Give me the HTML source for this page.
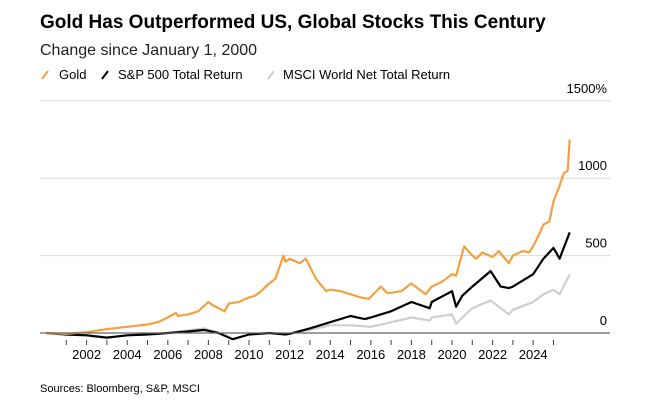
<!DOCTYPE html>
<html><head><meta charset="utf-8"><style>
body{margin:0;background:#fff;font-family:"Liberation Sans",Arial,sans-serif;}
#wrap{position:relative;width:662px;height:413px;overflow:hidden;}
</style></head><body>
<div id="wrap">
<svg id="chart" width="662" height="413" xmlns="http://www.w3.org/2000/svg">
<text x="40" y="28" font-size="19" font-weight="bold" fill="#000">Gold Has Outperformed US, Global Stocks This Century</text>
<text x="40" y="55" font-size="16" fill="#222">Change since January 1, 2000</text>
<g>
<g><line x1="42" y1="79" x2="48" y2="71" stroke="#f5a040" stroke-width="2"/><text x="59" y="79" font-size="13" fill="#000">Gold</text></g>
<g><line x1="102" y1="79" x2="108" y2="71" stroke="#000" stroke-width="2"/><text x="118" y="79" font-size="13" fill="#000">S&amp;P 500 Total Return</text></g>
<g><line x1="268" y1="79" x2="274" y2="71" stroke="#ccc" stroke-width="2"/><text x="283" y="79" font-size="13" fill="#000">MSCI World Net Total Return</text></g>
</g>
<g id="grid"></g><g id="series"></g><g id="xaxis"></g>
<text x="40" y="392" font-size="11" fill="#000">Sources: Bloomberg, S&amp;P, MSCI</text>
</svg>
</div>
<script>
const yTicks=[0,500,1000,1500];
const yTickLabels=["0","500","1000","1500%"];
const xTickYears=[2002,2004,2006,2008,2010,2012,2014,2016,2018,2020,2022,2024];
const goldT=[2000,2001,2002,2003,2004,2005,2005.5,2006,2006.4,2006.5,2007,2007.5,2008,2008.2,2008.8,2009,2009.5,2010,2010.3,2010.5,2011,2011.3,2011.7,2011.8,2012,2012.5,2012.8,2013.3,2013.8,2014,2014.5,2015,2015.5,2015.9,2016.5,2016.8,2017,2017.5,2018,2018.3,2018.7,2019,2019.5,2020,2020.2,2020.6,2021,2021.2,2021.5,2022,2022.3,2022.8,2023,2023.5,2023.8,2024,2024.3,2024.5,2024.8,2025,2025.3,2025.5,2025.7,2025.8];
const goldV=[0,-5,5,25,40,55,70,100,130,110,120,140,200,180,140,190,200,230,240,260,320,350,500,460,480,450,480,350,270,280,270,250,230,220,300,260,260,270,320,290,250,300,330,380,370,560,500,480,520,490,530,450,500,530,520,560,640,700,720,850,950,1030,1050,1250];
const spT=[2000,2001,2002,2003,2004,2005,2006,2007,2007.8,2008.5,2009.2,2010,2011,2011.8,2012,2013,2014,2015,2015.7,2016,2017,2018,2018.9,2019,2020,2020.2,2020.5,2021,2021.9,2022.4,2022.8,2023,2024,2024.5,2025,2025.3,2025.8];
const spV=[0,-10,-15,-30,-15,-10,0,10,20,0,-40,-10,0,-10,-5,30,70,110,90,100,140,200,160,200,270,170,240,300,400,300,290,300,380,480,550,480,650];
const msT=[2000,2001,2002,2003,2004,2006,2007.8,2008.5,2009.2,2010,2011,2012,2013,2014,2015,2016,2017,2018,2018.9,2019,2020,2020.2,2021,2021.9,2022.8,2023,2024,2024.5,2025,2025.3,2025.8];
const msV=[0,-10,-15,-30,-15,0,30,0,-40,-10,0,-5,20,50,50,40,70,100,80,100,120,60,160,210,120,150,200,250,280,250,380];
const x0=46,pxYear=20.3,y0=333,pxPer=77.4/500;
const X=t=>x0+(t-2000)*pxYear;
const Y=v=>y0-v*pxPer;
const ns="http://www.w3.org/2000/svg";
const grid=document.getElementById('grid'),ser=document.getElementById('series'),xa=document.getElementById('xaxis');
yTicks.forEach((v,i)=>{
 if(v>0){const l=document.createElementNS(ns,'line');
 l.setAttribute('x1',40);l.setAttribute('x2',610);l.setAttribute('y1',Y(v));l.setAttribute('y2',Y(v));
 l.setAttribute('stroke','#d8d8d8');l.setAttribute('stroke-width','1');
 
 
 grid.appendChild(l);}
 const t=document.createElementNS(ns,'text');
 t.setAttribute('x',607);t.setAttribute('y',Y(v)-8);t.setAttribute('text-anchor','end');t.setAttribute('font-size','13');
 t.textContent=yTickLabels[i];
 
 
 grid.appendChild(t);
});
function line(T,V,color,name){
 const p=document.createElementNS(ns,'polyline');
 p.setAttribute('points',T.map((t,i)=>X(t).toFixed(1)+','+Y(V[i]).toFixed(1)).join(' '));
 p.setAttribute('fill','none');p.setAttribute('stroke',color);p.setAttribute('stroke-width','2.2');p.setAttribute('stroke-linejoin','round');
 
 
 ser.appendChild(p);
}
line(msT,msV,'#cfcfcf','msci-line');
line(spT,spV,'#000','sp500-line');
line(goldT,goldV,'#f5a040','gold-line');
const z=document.createElementNS(ns,'line');
z.setAttribute('x1',40);z.setAttribute('x2',610);z.setAttribute('y1',y0);z.setAttribute('y2',y0);
z.setAttribute('stroke','#666');z.setAttribute('stroke-width','1.2');


xa.appendChild(z);
for(let yr=2001;yr<=2025;yr++){
 const tk=document.createElementNS(ns,'line');
 tk.setAttribute('x1',X(yr));tk.setAttribute('x2',X(yr));tk.setAttribute('y1',340);tk.setAttribute('y2',345);
 tk.setAttribute('stroke','#444');tk.setAttribute('stroke-width','1');
 
 
 xa.appendChild(tk);
}
xTickYears.forEach(yr=>{
 const t=document.createElementNS(ns,'text');
 t.setAttribute('x',X(yr));t.setAttribute('y',359);t.setAttribute('text-anchor','middle');t.setAttribute('font-size','13');
 t.textContent=yr;
 
 
 xa.appendChild(t);
});
</script>
</body></html>
